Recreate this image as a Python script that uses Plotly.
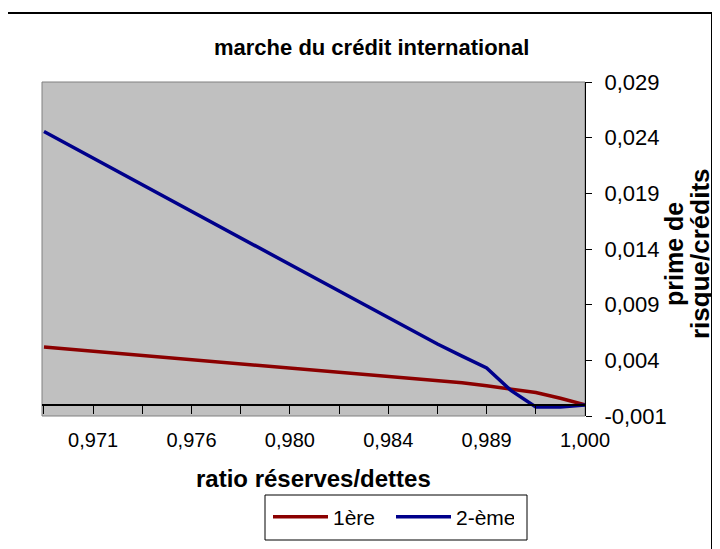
import plotly.graph_objects as go

# ---- data ----
# category position index (each step = half a tick interval)
point_index = list(range(23))
# estimated ratio réserves/dettes at each category
ratio = [0.9685, 0.9698, 0.971, 0.9723, 0.9735, 0.9748, 0.976, 0.977, 0.978, 0.979,
         0.980, 0.981, 0.982, 0.983, 0.984, 0.9853, 0.9865, 0.9878, 0.989, 0.9915,
         0.9945, 0.9972, 1.000]
serie_1ere = [0.00520, 0.00501, 0.00483, 0.00464, 0.00445, 0.00427, 0.00408, 0.00390,
              0.00372, 0.00353, 0.00334, 0.00316, 0.00297, 0.00278, 0.00260, 0.00241,
              0.00222, 0.00198, 0.00171, 0.00143, 0.00111, 0.00060, 0.00000]
serie_2eme = [0.02455, 0.02335, 0.02216, 0.02096, 0.01978, 0.01858, 0.01739, 0.01619,
              0.01500, 0.01380, 0.01262, 0.01142, 0.01023, 0.00903, 0.00784, 0.00664,
              0.00547, 0.00438, 0.00331, 0.00127, -0.00019, -0.00019, 0.00000]
label_index = [2, 6, 10, 14, 18, 22]
y_ticks = [-0.001, 0.004, 0.009, 0.014, 0.019, 0.024, 0.029]


def fr(v):
    return f"{v:.3f}".replace(".", ",")


FONT = "Liberation Sans, Arial, sans-serif"

fig = go.Figure()
fig.add_trace(go.Scatter(x=point_index, y=serie_1ere, mode="lines", name="1ère",
                         line=dict(color="#8B0000", width=3.5)))
fig.add_trace(go.Scatter(x=point_index, y=serie_2eme, mode="lines", name="2-ème",
                         line=dict(color="#00008B", width=3.5)))

ymin, ymax = -0.001, 0.029
zero_pos = (0 - ymin) / (ymax - ymin)


def px(x):  # page pixel -> paper x
    return (x - 42) / 543


def py(y):  # page pixel -> paper y
    return (416 - y) / 334


# page has an 8px body margin: figure is 712x541, plot area at page (42..585, 82..416)
fig.update_layout(
    width=712, height=541,
    margin=dict(l=34, r=135, t=74, b=133),
    paper_bgcolor="white",
    plot_bgcolor="#C0C0C0",
    font=dict(family=FONT, size=20, color="black"),
    showlegend=True,
    legend=dict(orientation="h", x=px(268), y=py(517),
                xanchor="left", yanchor="middle", bgcolor="rgba(0,0,0,0)",
                borderwidth=0,
                font=dict(family=FONT, size=21, color="black"),
                itemwidth=55, entrywidth=53),
    xaxis=dict(range=[-0.08, 22], showgrid=False, zeroline=False,
               anchor="free", position=zero_pos,
               showline=True, linecolor="black", linewidth=2,
               tickmode="array", tickvals=label_index,
               ticktext=[fr(ratio[i]) for i in label_index],
               ticks="outside", ticklen=8, tickcolor="black", tickwidth=1,
               ticklabelstandoff=9,
               minor=dict(tickmode="linear", ticks="outside", dtick=2, tick0=0, ticklen=8,
                          tickcolor="black", tickwidth=1, showgrid=False),
               tickfont=dict(family=FONT, size=20, color="black")),
    yaxis=dict(range=[ymin, ymax], side="right", showgrid=False, zeroline=False,
               showline=True, linecolor="black", linewidth=1,
               tickmode="array", tickvals=y_ticks, ticktext=[fr(v) for v in y_ticks],
               ticks="outside", ticklen=6, tickcolor="black",
               ticklabelstandoff=8,
               tickfont=dict(family=FONT, size=22, color="black")),
)

# plot area frame (grey), outer chart border, legend box
fig.add_shape(type="rect", xref="paper", yref="paper", x0=0, x1=1, y0=0, y1=1,
              line=dict(color="#808080", width=1), fillcolor="rgba(0,0,0,0)", layer="below")
fig.add_shape(type="rect", xref="paper", yref="paper",
              x0=px(5), x1=px(712), y0=py(570), y1=py(13),
              line=dict(color="black", width=2), fillcolor="rgba(0,0,0,0)")
fig.add_shape(type="rect", xref="paper", yref="paper",
              x0=px(265), x1=px(527), y0=py(540), y1=py(495),
              line=dict(color="black", width=1), fillcolor="white")

fig.add_annotation(text="<b>marche du crédit international</b>", xref="paper", yref="paper",
                   x=px(371), y=py(47), showarrow=False,
                   xanchor="center", yanchor="middle",
                   font=dict(family=FONT, size=22, color="black"))
fig.add_annotation(text="<b>ratio réserves/dettes</b>", xref="paper", yref="paper",
                   x=px(313), y=py(478), showarrow=False,
                   xanchor="center", yanchor="middle",
                   font=dict(family=FONT, size=24, color="black"))
fig.add_annotation(text="<b>prime de</b>", xref="paper", yref="paper",
                   x=px(674), y=py(254), showarrow=False,
                   textangle=-90, xanchor="center", yanchor="middle",
                   font=dict(family=FONT, size=25, color="black"))
fig.add_annotation(text="<b>risque/crédits</b>", xref="paper", yref="paper",
                   x=px(700), y=py(254), showarrow=False,
                   textangle=-90, xanchor="center", yanchor="middle",
                   font=dict(family=FONT, size=26, color="black"))

fig.write_html("out.html")
